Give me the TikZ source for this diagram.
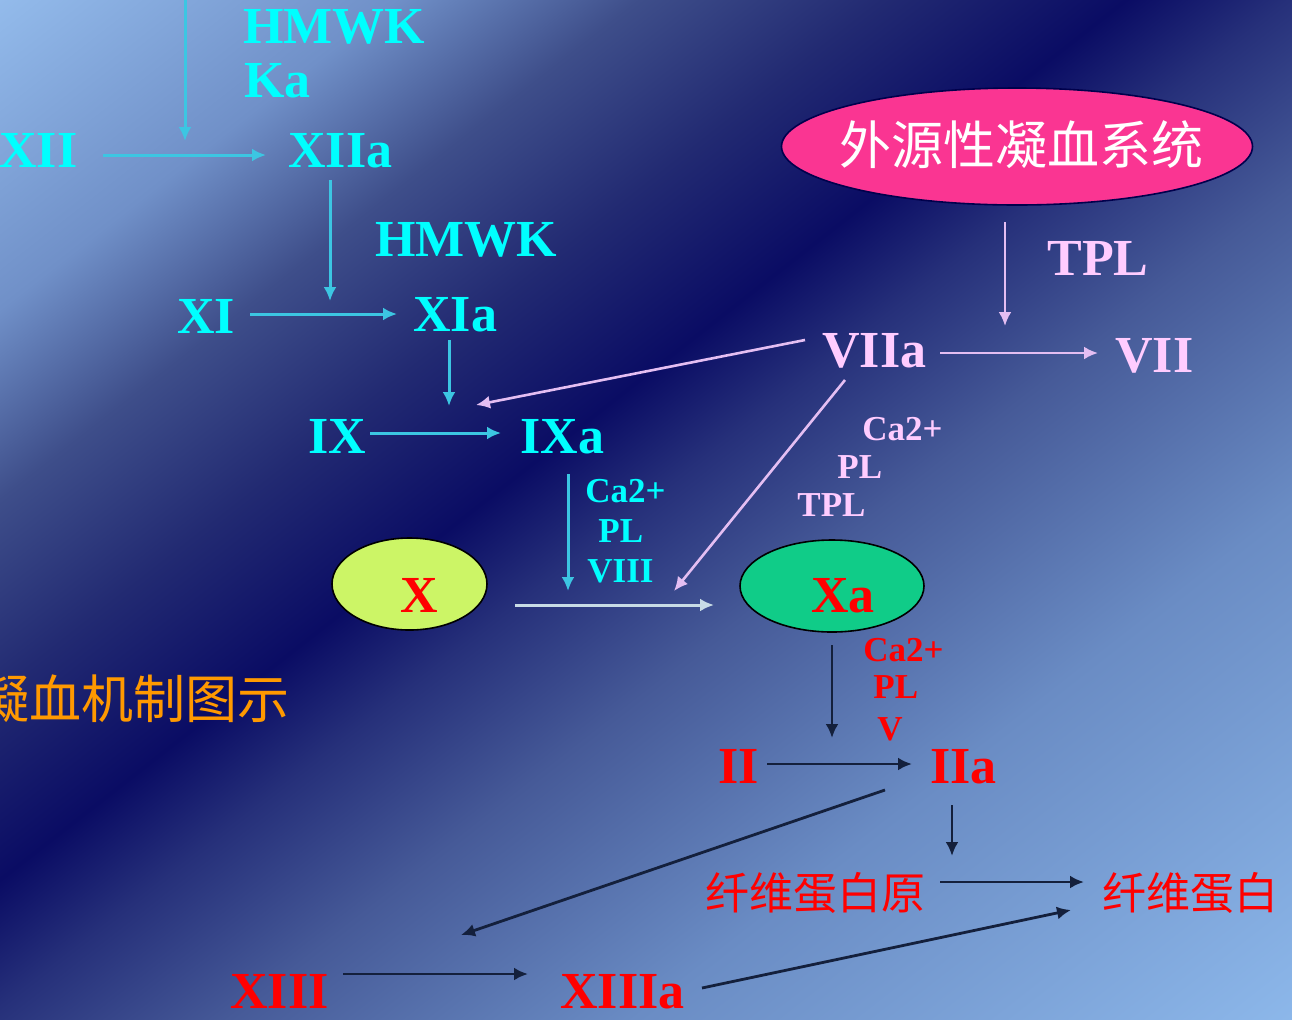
\documentclass[tikz,border=0pt]{standalone}
\usepackage{fontspec}
\setmainfont{Liberation Serif}
\newfontfamily\cjk{Noto Sans CJK SC}
\usetikzlibrary{arrows.meta,shapes.geometric}
\definecolor{bgA}{HTML}{94BCEC}
\definecolor{bgB}{HTML}{7090C8}
\definecolor{bgC}{HTML}{3E4E8A}
\definecolor{bgD}{HTML}{222A72}
\definecolor{bgE}{HTML}{0A0C64}
\definecolor{bgF}{HTML}{26307A}
\definecolor{bgG}{HTML}{465A98}
\definecolor{bgH}{HTML}{6A8CC4}
\definecolor{bgI}{HTML}{90BCEE}
\definecolor{cytext}{HTML}{00FFFF}
\definecolor{cyarrow}{HTML}{3CC6E2}
\definecolor{pktext}{HTML}{FFCCFF}
\definecolor{pkarrow}{HTML}{E4BEF2}
\definecolor{ltarrow}{HTML}{C8DCE6}
\definecolor{dkarrow}{HTML}{14203C}
\definecolor{rdtext}{HTML}{FF0000}
\definecolor{ortext}{HTML}{FF9900}
\definecolor{xgreen}{HTML}{CCF566}
\definecolor{xagreen}{HTML}{10CC88}
\definecolor{pkfill}{HTML}{FA3592}
\pgfdeclarehorizontalshading{bgshade}{100bp}{color(0bp)=(bgA); color(27.78bp)=(bgA); color(34.72bp)=(bgB); color(38.89bp)=(bgC); color(43.06bp)=(bgD); color(47.22bp)=(bgE); color(50bp)=(bgF); color(54.17bp)=(bgG); color(61.11bp)=(bgH); color(73.61bp)=(bgI); color(100bp)=(bgI)}
\begin{document}
\begin{tikzpicture}[x=0.5pt,y=-0.5pt,
  big/.style={font=\bfseries\fontsize{26}{30}\selectfont, inner sep=0pt, anchor=base west},
  small/.style={font=\bfseries\fontsize{17.5}{20}\selectfont, inner sep=0pt, anchor=base west},
  cjkbig/.style={font=\cjk\fontsize{26}{30}\selectfont, inner sep=0pt},
  cjkmid/.style={font=\cjk\fontsize{22}{26}\selectfont, inner sep=0pt, anchor=base west},
  cy/.style={text=cytext}, pk/.style={text=pktext}, rd/.style={text=rdtext},
  tip/.style={-{Latex[length=7pt,width=6.5pt]}},
  carr/.style={tip, draw=cyarrow, line width=1.5pt},
  parr/.style={tip, draw=pkarrow, line width=1.3pt},
  larr/.style={tip, draw=ltarrow, line width=1.5pt},
  darr/.style={tip, draw=dkarrow, line width=1.4pt},
  oval/.style={ellipse, draw=black, line width=0.8pt, inner sep=0pt}]
\useasboundingbox (0,0) rectangle (1292,1019);
\clip (0,0) rectangle (1292,1019);
\begin{scope}[transform canvas={shift={(0,880)},rotate=-52}]
  \shade[shading=bgshade] (-800,-1700) rectangle (1000,1700);
\end{scope}

% ellipses
\node[oval, fill=xgreen, minimum width=77.5pt, minimum height=46pt] (eX) at (409.5,584) {};
\node[oval, fill=xagreen, minimum width=92pt, minimum height=46pt] (eXa) at (832,586) {};
\node[oval, draw=black!70!blue, fill=pkfill, minimum width=235.5pt, minimum height=58.5pt] (eExt) at (1017,146.5) {};

% cyan (intrinsic) texts
\node[big,cy] (hmwk1) at (243,43) {HMWK};
\node[big,cy] (ka) at (244,97) {Ka};
\node[big,cy] (xii) at (-1,167) {XII};
\node[big,cy] (xiia) at (288,167) {XIIa};
\node[big,cy] (hmwk2) at (375,256) {HMWK};
\node[big,cy] (xi) at (177,333) {XI};
\node[big,cy] (xia) at (413,331) {XIa};
\node[big,cy] (ix) at (308,453) {IX};
\node[big,cy] (ixa) at (520,453) {IXa};
\node[small,cy] (ca1) at (585,502) {Ca2+};
\node[small,cy] (pl1) at (598,542) {PL};
\node[small,cy] (viii) at (587,582) {VIII};

% extrinsic
\node[cjkbig, text=white] (ext) at (1021,145) {外源性凝血系统};
\node[big,pk] (tpl1) at (1047,275) {TPL};
\node[big,pk] (viia) at (822,367) {VIIa};
\node[big,pk] (vii) at (1115,372) {VII};
\node[small,pk] (ca2) at (862,440) {Ca2+};
\node[small,pk] (pl2) at (837,478) {PL};
\node[small,pk] (tpl2) at (797,516) {TPL};

% common pathway
\node[big,rd] (x) at (400,612) {X};
\node[big,rd] (xa) at (811,612) {Xa};
\node[small,rd] (ca3) at (863,661) {Ca2+};
\node[small,rd] (pl3) at (873,698) {PL};
\node[small,rd] (v) at (877,740) {V};
\node[big,rd] (ii) at (718,783) {II};
\node[big,rd] (iia) at (930,783) {IIa};
\node[cjkmid,rd] (fgn) at (705,909) {纤维蛋白原};
\node[cjkmid,rd] (fb) at (1102,909) {纤维蛋白};
\node[big,rd] (xiii) at (230,1008) {XIII};
\node[big,rd] (xiiia) at (560,1008) {XIIIa};
\node[font=\cjk\fontsize{26}{30}\selectfont, inner sep=0pt, anchor=base east, text=ortext] (title) at (290,718) {凝血机制图示};

% arrow end points
\coordinate (a1s) at (185,-5);   \coordinate (a1e) at (185,141);
\coordinate (a2s) at (103,155);  \coordinate (a2e) at (266,155);
\coordinate (a3s) at (330,180);  \coordinate (a3e) at (330,301);
\coordinate (a4s) at (250,314);  \coordinate (a4e) at (397,314);
\coordinate (a5s) at (449,340);  \coordinate (a5e) at (449,406);
\coordinate (a6s) at (370,433);  \coordinate (a6e) at (501,433);
\coordinate (a7s) at (568,474);  \coordinate (a7e) at (568,591);
\coordinate (a8s) at (515,605);  \coordinate (a8e) at (714,605);
\coordinate (a9s) at (1005,222); \coordinate (a9e) at (1005,326);
\coordinate (a10s) at (940,353); \coordinate (a10e) at (1098,353);
\coordinate (a11s) at (805,340); \coordinate (a11e) at (476,405);
\coordinate (a12s) at (845,380); \coordinate (a12e) at (674,591);
\coordinate (a13s) at (832,645); \coordinate (a13e) at (832,738);
\coordinate (a14s) at (767,764); \coordinate (a14e) at (912,764);
\coordinate (a15s) at (885,790); \coordinate (a15e) at (461,935);
\coordinate (a16s) at (952,805); \coordinate (a16e) at (952,856);
\coordinate (a17s) at (940,882); \coordinate (a17e) at (1084,882);
\coordinate (a18s) at (343,974); \coordinate (a18e) at (528,974);
\coordinate (a19s) at (702,988); \coordinate (a19e) at (1071,910);

\draw[carr] (a1s) -- (a1e);
\draw[carr] (a2s) -- (a2e);
\draw[carr] (a3s) -- (a3e);
\draw[carr] (a4s) -- (a4e);
\draw[carr] (a5s) -- (a5e);
\draw[carr] (a6s) -- (a6e);
\draw[carr] (a7s) -- (a7e);
\draw[larr] (a8s) -- (a8e);
\draw[parr] (a9s) -- (a9e);
\draw[parr] (a10s) -- (a10e);
\draw[parr] (a11s) -- (a11e);
\draw[parr] (a12s) -- (a12e);
\draw[darr] (a13s) -- (a13e);
\draw[darr] (a14s) -- (a14e);
\draw[darr] (a15s) -- (a15e);
\draw[darr] (a16s) -- (a16e);
\draw[darr] (a17s) -- (a17e);
\draw[darr] (a18s) -- (a18e);
\draw[darr] (a19s) -- (a19e);
\end{tikzpicture}
\end{document}
